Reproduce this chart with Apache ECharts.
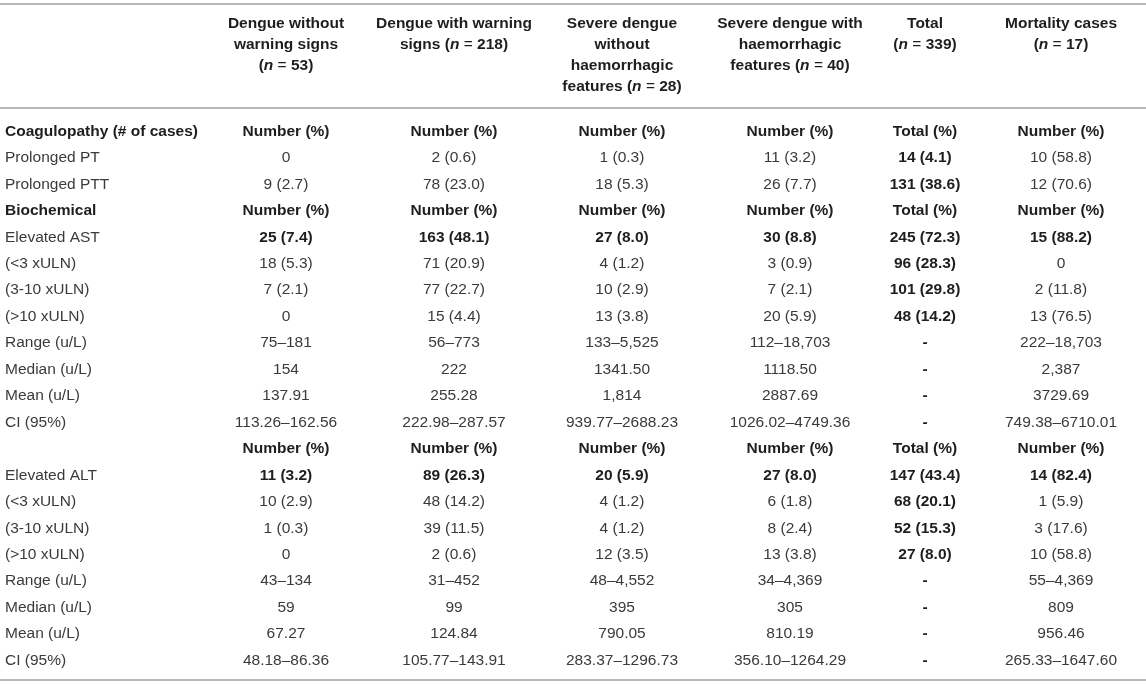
<!DOCTYPE html>
<html>
<head>
<meta charset="utf-8">
<script src="https://cdn.jsdelivr.net/npm/echarts/dist/echarts.min.js"></script>
<style>
  html, body { margin: 0; padding: 0; background: #fff; }
  #table { width: 1146px; height: 685px; }
</style>
</head>
<body>
<div id="table"></div>
<script>
// column headings (the n of each group is set in italic below)
const groupNames = [
    'Dengue without\nwarning signs\n',
    'Dengue with warning\nsigns ',
    'Severe dengue\nwithout\nhaemorrhagic\nfeatures ',
    'Severe dengue with\nhaemorrhagic\nfeatures ',
    'Total\n',
    'Mortality cases\n'
];
const groupN = [53, 218, 28, 40, 339, 17];

const rowLabels = [
    'Coagulopathy (# of cases)', 'Prolonged PT', 'Prolonged PTT',
    'Biochemical', 'Elevated AST', '(<3 xULN)', '(3-10 xULN)', '(>10 xULN)',
    'Range (u/L)', 'Median (u/L)', 'Mean (u/L)', 'CI (95%)',
    '', 'Elevated ALT', '(<3 xULN)', '(3-10 xULN)', '(>10 xULN)',
    'Range (u/L)', 'Median (u/L)', 'Mean (u/L)', 'CI (95%)'
];

const dengueNoWarning = [
    'Number (%)', '0', '9 (2.7)',
    'Number (%)', '25 (7.4)', '18 (5.3)', '7 (2.1)', '0',
    '75–181', '154', '137.91', '113.26–162.56',
    'Number (%)', '11 (3.2)', '10 (2.9)', '1 (0.3)', '0',
    '43–134', '59', '67.27', '48.18–86.36'
];
const dengueWarning = [
    'Number (%)', '2 (0.6)', '78 (23.0)',
    'Number (%)', '163 (48.1)', '71 (20.9)', '77 (22.7)', '15 (4.4)',
    '56–773', '222', '255.28', '222.98–287.57',
    'Number (%)', '89 (26.3)', '48 (14.2)', '39 (11.5)', '2 (0.6)',
    '31–452', '99', '124.84', '105.77–143.91'
];
const severeNoHaem = [
    'Number (%)', '1 (0.3)', '18 (5.3)',
    'Number (%)', '27 (8.0)', '4 (1.2)', '10 (2.9)', '13 (3.8)',
    '133–5,525', '1341.50', '1,814', '939.77–2688.23',
    'Number (%)', '20 (5.9)', '4 (1.2)', '4 (1.2)', '12 (3.5)',
    '48–4,552', '395', '790.05', '283.37–1296.73'
];
const severeHaem = [
    'Number (%)', '11 (3.2)', '26 (7.7)',
    'Number (%)', '30 (8.8)', '3 (0.9)', '7 (2.1)', '20 (5.9)',
    '112–18,703', '1118.50', '2887.69', '1026.02–4749.36',
    'Number (%)', '27 (8.0)', '6 (1.8)', '8 (2.4)', '13 (3.8)',
    '34–4,369', '305', '810.19', '356.10–1264.29'
];
const totalCol = [
    'Total (%)', '14 (4.1)', '131 (38.6)',
    'Total (%)', '245 (72.3)', '96 (28.3)', '101 (29.8)', '48 (14.2)',
    '-', '-', '-', '-',
    'Total (%)', '147 (43.4)', '68 (20.1)', '52 (15.3)', '27 (8.0)',
    '-', '-', '-', '-'
];
const mortality = [
    'Number (%)', '10 (58.8)', '12 (70.6)',
    'Number (%)', '15 (88.2)', '0', '2 (11.8)', '13 (76.5)',
    '222–18,703', '2,387', '3729.69', '749.38–6710.01',
    'Number (%)', '14 (82.4)', '1 (5.9)', '3 (17.6)', '10 (58.8)',
    '55–4,369', '809', '956.46', '265.33–1647.60'
];

// which rows are printed in bold
const sectionRows = [0, 3, 12];   // label + "Number (%)" rows
const elevatedRows = [4, 13];     // values bold, label regular
const totalColIndex = 4;          // the Total column is bold throughout

// layout
const W = 1146, H = 685;
const colWidths = [202, 168, 168, 168, 168, 102, 170];
const labelX = 5;
const firstRowY = 131.5;
const rowH = 26.45;
const headerTop = 13.5;
const headerLineH = 21;
const ruleYs = [4, 108, 680];
const FONT = '"Liberation Sans", Arial, Helvetica, sans-serif';
const FS = 15.5;

const columns = [dengueNoWarning, dengueWarning, severeNoHaem, severeHaem, totalCol, mortality];

// centre of every data column
const colCenters = [];
let acc = colWidths[0];
for (let i = 1; i < colWidths.length; i++) {
    colCenters.push(acc + colWidths[i] / 2);
    acc += colWidths[i];
}

// cells of the body
const cells = [];
rowLabels.forEach(function (label, r) {
    const y = firstRowY + r * rowH;
    if (label) {
        cells.push({ value: [labelX, y], text: label, align: 'left', bold: sectionRows.indexOf(r) >= 0 });
    }
    columns.forEach(function (col, c) {
        const bold = sectionRows.indexOf(r) >= 0 || elevatedRows.indexOf(r) >= 0 || c === totalColIndex;
        cells.push({ value: [colCenters[c], y], text: col[r], align: 'center', bold: bold });
    });
});

const headers = groupNames.map(function (name, c) {
    return { value: [colCenters[c], headerTop], text: name + '({i|n}{eq| = }' + groupN[c] + ')' };
});

const headTok = { fontFamily: FONT, fontSize: FS, fontWeight: 'bold', lineHeight: headerLineH, fill: '#1e1e1e' };

const chart = echarts.init(document.getElementById('table'));

chart.setOption({
    backgroundColor: '#ffffff',
    animation: false,
    grid: { left: 0, right: 0, top: 0, bottom: 0 },
    xAxis: { type: 'value', min: 0, max: W, show: false },
    yAxis: { type: 'value', min: 0, max: H, inverse: true, show: false },
    series: [
        {
            // horizontal rules
            type: 'custom',
            silent: true,
            clip: false,
            data: ruleYs.map(function (y) { return [0, y]; }),
            renderItem: function (params, api) {
                const a = api.coord([0, api.value(1)]);
                const b = api.coord([W, api.value(1)]);
                return {
                    type: 'line',
                    shape: { x1: a[0], y1: a[1], x2: b[0], y2: b[1] },
                    style: { stroke: '#b8b8b8', lineWidth: 2 }
                };
            }
        },
        {
            // column headings
            type: 'custom',
            silent: true,
            clip: false,
            data: headers,
            renderItem: function (params, api) {
                const h = headers[params.dataIndex];
                const p = api.coord([api.value(0), api.value(1)]);
                return {
                    type: 'text',
                    style: Object.assign({}, headTok, {
                        x: p[0],
                        y: p[1],
                        text: h.text,
                        align: 'center',
                        verticalAlign: 'top',
                        rich: {
                            i: Object.assign({}, headTok, { fontStyle: 'italic' }),
                            eq: Object.assign({}, headTok, { fontWeight: 'normal' })
                        }
                    })
                };
            }
        },
        {
            // table body
            type: 'custom',
            silent: true,
            clip: false,
            data: cells,
            renderItem: function (params, api) {
                const cell = cells[params.dataIndex];
                const p = api.coord([api.value(0), api.value(1)]);
                return {
                    type: 'text',
                    style: {
                        x: p[0],
                        y: p[1],
                        text: cell.text,
                        align: cell.align,
                        verticalAlign: 'middle',
                        fontFamily: FONT,
                        fontSize: FS,
                        fontWeight: cell.bold ? 'bold' : 'normal',
                        fill: cell.bold ? '#1e1e1e' : '#3a3a3a'
                    }
                };
            }
        }
    ]
});
</script>
</body>
</html>
